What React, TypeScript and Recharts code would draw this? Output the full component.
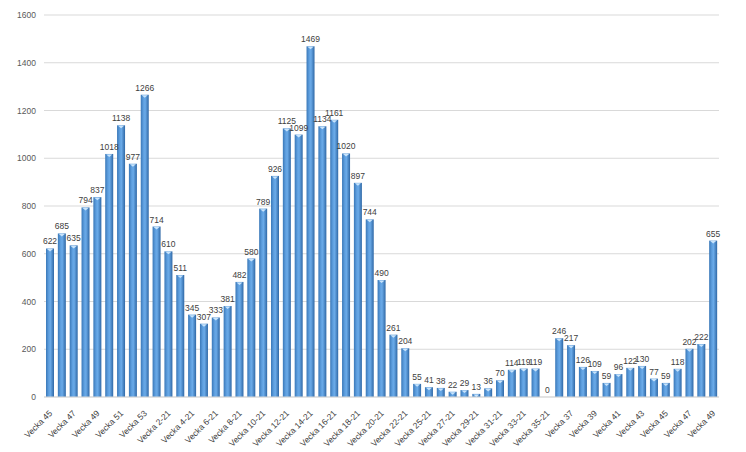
import React from 'react';
import { BarChart, Bar, XAxis, YAxis, CartesianGrid, LabelList } from 'recharts';

const weeks: string[] = [
  'Vecka 45', 'Vecka 46', 'Vecka 47', 'Vecka 48', 'Vecka 49', 'Vecka 50', 'Vecka 51', 'Vecka 52', 'Vecka 53',
  'Vecka 1-21', 'Vecka 2-21', 'Vecka 3-21', 'Vecka 4-21', 'Vecka 5-21', 'Vecka 6-21', 'Vecka 7-21', 'Vecka 8-21',
  'Vecka 9-21', 'Vecka 10-21', 'Vecka 11-21', 'Vecka 12-21', 'Vecka 13-21', 'Vecka 14-21', 'Vecka 15-21',
  'Vecka 16-21', 'Vecka 17-21', 'Vecka 18-21', 'Vecka 19-21', 'Vecka 20-21', 'Vecka 21-21', 'Vecka 22-21',
  'Vecka 24-21', 'Vecka 25-21', 'Vecka 26-21', 'Vecka 27-21', 'Vecka 28-21', 'Vecka 29-21', 'Vecka 30-21',
  'Vecka 31-21', 'Vecka 32-21', 'Vecka 33-21', 'Vecka 34-21', 'Vecka 35-21',
  'Vecka 36', 'Vecka 37', 'Vecka 38', 'Vecka 39', 'Vecka 40', 'Vecka 41', 'Vecka 42', 'Vecka 43', 'Vecka 44',
  'Vecka 45 ', 'Vecka 46 ', 'Vecka 47 ', 'Vecka 48 ', 'Vecka 49 ',
];

const cases: number[] = [
  622, 685, 635, 794, 837, 1018, 1138, 977, 1266,
  714, 610, 511, 345, 307, 333, 381, 482,
  580, 789, 926, 1125, 1099, 1469, 1134,
  1161, 1020, 897, 744, 490, 261, 204,
  55, 41, 38, 22, 29, 13, 36,
  70, 114, 119, 119, 0,
  246, 217, 126, 109, 59, 96, 122, 130, 77,
  59, 118, 202, 222, 655,
];

const yTicks: number[] = [0, 200, 400, 600, 800, 1000, 1200, 1400, 1600];

const data = weeks.map((w, i) => ({ week: w, value: cases[i] }));

const FONT = '"Liberation Sans", Arial, sans-serif';

const CylBar = (props: any) => {
  const { x, y, width, height } = props;
  if (!height || height <= 0) return null;
  const capH = Math.min(3, height);
  return (
    <g>
      <rect x={x} y={y} width={width} height={height} fill="url(#cylGrad)" />
      <polygon
        points={`${x + 1},${y + 0.5} ${x + width - 1},${y + 0.5} ${x + width / 2},${y + capH}`}
        fill="#c9e4fb"
      />
    </g>
  );
};

const XTick = (props: any) => {
  const { x, y, payload } = props;
  return (
    <g transform={`translate(${x},${y + 6})`}>
      <text
        x={0}
        y={0}
        dy={4}
        textAnchor="end"
        transform="rotate(-45)"
        fontSize={8.5}
        fill="#404040"
        fontFamily={FONT}
      >
        {String(payload.value).trim()}
      </text>
    </g>
  );
};

export default function App() {
  return (
    <div style={{ position: 'absolute', left: 0, top: 0, width: 746, height: 452, background: '#fff' }}>
      <BarChart
        width={746}
        height={452}
        data={data}
        margin={{ top: 15, right: 27, bottom: 0, left: 0 }}
        barSize={8}
      >
        <defs>
          <linearGradient id="cylGrad" x1="0" y1="0" x2="1" y2="0">
            <stop offset="0%" stopColor="#3a78b8" />
            <stop offset="35%" stopColor="#5fa0e0" />
            <stop offset="55%" stopColor="#6aaae8" />
            <stop offset="100%" stopColor="#2f68a6" />
          </linearGradient>
        </defs>
        <CartesianGrid vertical={false} stroke="#d9d9d9" />
        <XAxis
          dataKey="week"
          interval={1}
          tick={<XTick />}
          tickLine={false}
          axisLine={{ stroke: '#d9d9d9' }}
          height={55}
        />
        <YAxis
          width={44}
          domain={[0, 1600]}
          ticks={yTicks}
          tickLine={false}
          axisLine={false}
          tick={{ fontSize: 8.5, fill: '#595959', fontFamily: FONT }}
        />
        <Bar dataKey="value" shape={<CylBar />} isAnimationActive={false}>
          <LabelList
            dataKey="value"
            position="top"
            offset={4}
            style={{ fontSize: 8.5, fill: '#404040', fontFamily: FONT }}
          />
        </Bar>
      </BarChart>
    </div>
  );
}
